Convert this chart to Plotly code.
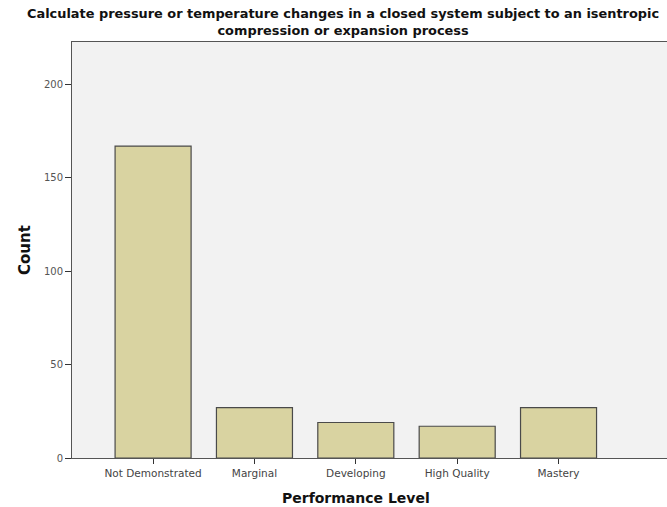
import plotly.graph_objects as go

categories = ["Not Demonstrated", "Marginal", "Developing", "High Quality", "Mastery"]
counts = [167, 27, 19, 17, 27]
y_ticks = [0, 50, 100, 150, 200]
title_text = ("Calculate pressure or temperature changes in a closed system subject to an isentropic"
              "<br>compression or expansion process")

fig = go.Figure()
fig.add_trace(go.Bar(
    x=list(range(len(categories))), y=counts, width=0.75,
    marker=dict(color="#d9d3a1", line=dict(color="#4a4a4a", width=1.2)),
    hoverinfo="skip",
))

fig.update_layout(
    width=667, height=507,
    margin=dict(l=72, r=0, t=42, b=49, autoexpand=False),
    paper_bgcolor="white", plot_bgcolor="#f2f2f2",
    showlegend=False,
    font=dict(family="DejaVu Sans", color="#333"),
    xaxis=dict(
        range=[-0.8, 5.07], tickmode="array",
        tickvals=list(range(len(categories))), ticktext=categories,
        ticks="outside", ticklen=5, tickcolor="#333", tickwidth=1,
        showline=True, mirror=True, linecolor="#555", linewidth=1,
        showgrid=False, zeroline=False, fixedrange=True,
        tickfont=dict(size=10.5, color="#444"),
    ),
    yaxis=dict(
        range=[0, 222.7], tickmode="array", tickvals=y_ticks,
        ticks="outside", ticklen=6, tickcolor="#333", tickwidth=1,
        showline=True, linecolor="#555", linewidth=1,
        showgrid=False, zeroline=False, fixedrange=True,
        tickfont=dict(size=10, color="#555"),
    ),
    annotations=[
        dict(text="<b>" + title_text + "</b>", xref="paper", yref="paper",
             x=(343 - 72) / 595.0, y=1, xanchor="center", yanchor="bottom", yshift=2,
             showarrow=False, font=dict(size=12.9, color="#111"), align="center"),
        dict(text="<b>Performance Level</b>", xref="x", yref="paper",
             x=2, y=0, xanchor="center", yanchor="middle", yshift=-40,
             showarrow=False, font=dict(size=14, color="#111")),
        dict(text="<b>Count</b>", xref="paper", yref="paper",
             x=0, y=0.5, xanchor="center", yanchor="middle", xshift=-47, textangle=-90,
             showarrow=False, font=dict(size=15, color="#111")),
    ],
)

fig.write_html("out.html", config={"displayModeBar": False},
               post_script="document.body.style.margin='0';document.body.style.overflow='hidden';")
